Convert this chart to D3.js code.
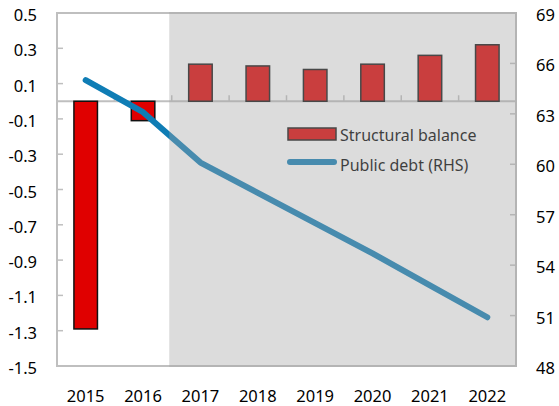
<!DOCTYPE html>
<html>
<head>
<meta charset="utf-8">
<script src="https://cdn.jsdelivr.net/npm/d3@7"></script>
<style>
  body { margin: 0; background: #fff; }
  svg { display: block; font-family: "Noto Sans", "Open Sans", sans-serif; }
</style>
</head>
<body>
<div id="chart"></div>
<script>
var years = ["2015", "2016", "2017", "2018", "2019", "2020", "2021", "2022"];
var structuralBalance = [-1.29, -0.11, 0.21, 0.20, 0.18, 0.21, 0.26, 0.32];
var publicDebt = [65.0, 63.1, 60.1, 58.3, 56.5, 54.7, 52.8, 50.9];
var leftTicks = [0.5, 0.3, 0.1, -0.1, -0.3, -0.5, -0.7, -0.9, -1.1, -1.3, -1.5];
var rightTicks = [69, 66, 63, 60, 57, 54, 51, 48];
var projectionStart = "2017";
var legendLabels = ["Structural balance", "Public debt (RHS)"];

var width = 559, height = 406;
var plotLeft = 57, plotRight = 516, plotTop = 13, plotBottom = 366;

var svg = d3.select("#chart").append("svg")
  .attr("width", width).attr("height", height);

var x = d3.scaleBand().domain(years).range([plotLeft, plotRight]).paddingInner(0).paddingOuter(0);
var yL = d3.scaleLinear().domain([-1.5, 0.5]).range([plotBottom, plotTop]);
var yR = d3.scaleLinear().domain([48, 69]).range([plotBottom, plotTop]);
var bw = x.bandwidth();
var barW = bw * 0.41;

var frameColor = "#bfbfbf";

// frame
svg.append("rect")
  .attr("x", plotLeft).attr("y", plotTop)
  .attr("width", plotRight - plotLeft).attr("height", plotBottom - plotTop)
  .attr("fill", "none").attr("stroke", frameColor).attr("stroke-width", 2)
  .style("shape-rendering", "crispEdges");

// left ticks (inward)
svg.append("g").selectAll("line").data(leftTicks).enter().append("line")
  .attr("x1", plotLeft).attr("x2", plotLeft + 6)
  .attr("y1", function(d) { return yL(d); }).attr("y2", function(d) { return yL(d); })
  .attr("stroke", frameColor).attr("stroke-width", 1.5);

// right ticks (inward)
svg.append("g").selectAll("line").data(rightTicks).enter().append("line")
  .attr("x1", plotRight - 6).attr("x2", plotRight)
  .attr("y1", function(d) { return yR(d); }).attr("y2", function(d) { return yR(d); })
  .attr("stroke", frameColor).attr("stroke-width", 1.5);

// zero line with category ticks
svg.append("line")
  .attr("x1", plotLeft).attr("x2", plotRight)
  .attr("y1", yL(0)).attr("y2", yL(0))
  .attr("stroke", frameColor).attr("stroke-width", 2);
svg.append("g").selectAll("line").data(years.slice(1)).enter().append("line")
  .attr("x1", function(d) { return x(d); }).attr("x2", function(d) { return x(d); })
  .attr("y1", yL(0)).attr("y2", yL(0) - 6)
  .attr("stroke", frameColor).attr("stroke-width", 1.5);

// bars
svg.append("g").selectAll("rect").data(structuralBalance).enter().append("rect")
  .attr("x", function(d, i) { return x(years[i]) + (bw - barW) / 2; })
  .attr("width", barW)
  .attr("y", function(d) { return d >= 0 ? yL(d) : yL(0); })
  .attr("height", function(d) { return Math.abs(yL(d) - yL(0)); })
  .attr("fill", "#e00000")
  .attr("stroke", "#111").attr("stroke-width", 1.5);

// public debt line
var line = d3.line()
  .x(function(d, i) { return x(years[i]) + bw / 2; })
  .y(function(d) { return yR(d); });
svg.append("path").datum(publicDebt)
  .attr("d", line)
  .attr("fill", "none")
  .attr("stroke", "#0f7db5").attr("stroke-width", 6)
  .attr("stroke-linecap", "round").attr("stroke-linejoin", "round");

// legend
var lg = svg.append("g").attr("transform", "translate(288,128)");
lg.append("rect").attr("x", 0).attr("y", 0).attr("width", 48).attr("height", 12)
  .attr("fill", "#e00000").attr("stroke", "#111").attr("stroke-width", 1.5);
lg.append("line").attr("x1", 2).attr("x2", 46).attr("y1", 34).attr("y2", 34)
  .attr("stroke", "#0f7db5").attr("stroke-width", 6).attr("stroke-linecap", "round");
lg.selectAll("text").data(legendLabels).enter().append("text")
  .attr("x", 52).attr("y", function(d, i) { return 13 + i * 30; })
  .attr("font-size", "16px").attr("fill", "#000")
  .text(function(d) { return d; });

// projection shading over everything in the plot
svg.append("rect")
  .attr("x", x(projectionStart) - 2.5).attr("y", plotTop - 1)
  .attr("width", plotRight + 1 - (x(projectionStart) - 2.5)).attr("height", plotBottom - plotTop + 2)
  .attr("fill", "#a2a2a2").attr("opacity", 0.38);

// axis labels
svg.append("g").selectAll("text").data(leftTicks).enter().append("text")
  .attr("x", 37).attr("y", function(d) { return yL(d) + 8; })
  .attr("text-anchor", "end").attr("font-size", "16.5px").attr("fill", "#000")
  .text(function(d) { return d.toFixed(1); });

svg.append("g").selectAll("text").data(rightTicks).enter().append("text")
  .attr("x", 536).attr("y", function(d) { return yR(d) + 8; })
  .attr("text-anchor", "start").attr("font-size", "16.5px").attr("fill", "#000")
  .text(function(d) { return d; });

svg.append("g").selectAll("text").data(years).enter().append("text")
  .attr("x", function(d) { return x(d) + bw / 2; }).attr("y", 402)
  .attr("text-anchor", "middle").attr("font-size", "16.5px").attr("fill", "#000")
  .text(function(d) { return d; });
</script>
</body>
</html>
